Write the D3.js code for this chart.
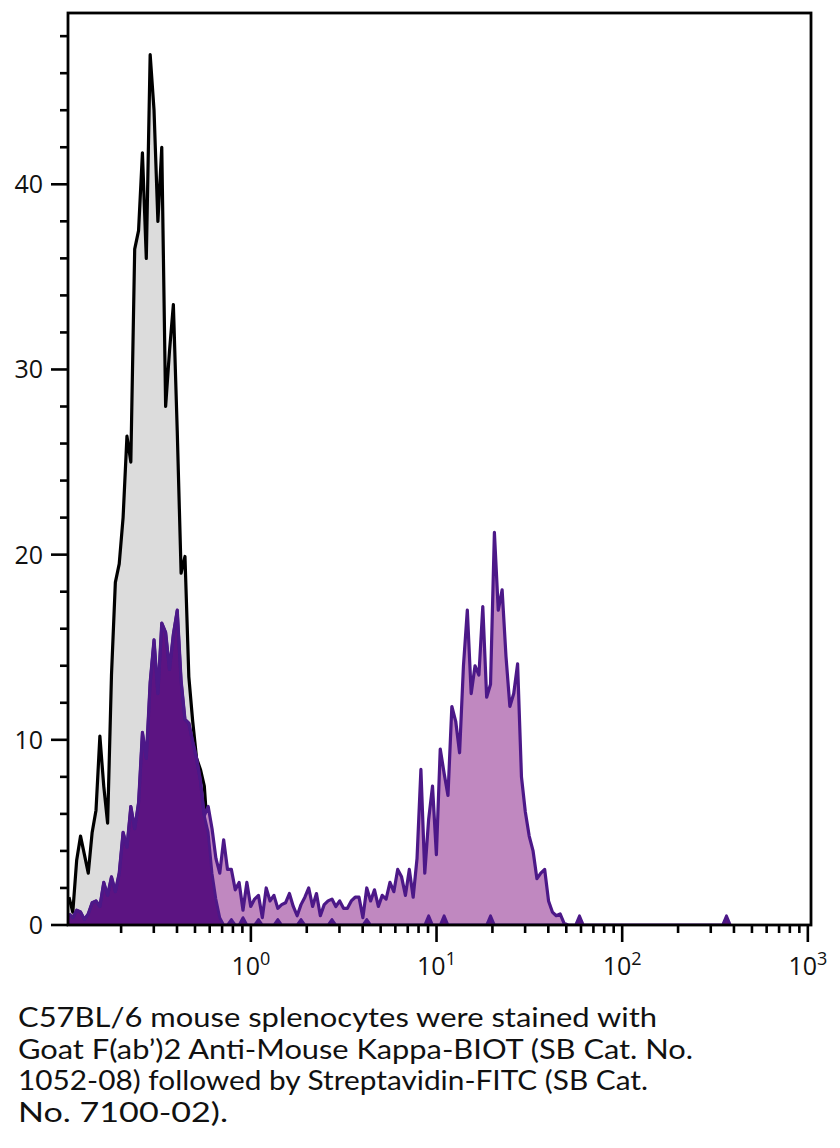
<!DOCTYPE html>
<html><head><meta charset="utf-8">
<script src="https://cdn.jsdelivr.net/npm/d3@7"></script>
<style>html,body{margin:0;padding:0;background:#fff;} svg{display:block;}</style>
</head><body>
<svg id="chart" width="840" height="1148"></svg>
<script>
// ---- data: histogram bins on a log grid (bin i at 10^(binStartLog + i/binsPerDecade)) ----
const binStartLog = -0.98;
const binsPerDecade = 48;

// unstained control (grey fill, black outline)
const controlCounts = [1.5,0.7,3.5,4.8,3.8,2.8,5.0,6.2,10.2,7.5,5.5,13.5,18.5,19.5,22.0,26.4,25.0,36.5,37.5,41.7,36.0,47.0,44.0,38.0,42.0,28.0,31.0,33.5,26.7,19.0,19.9,13.4,11.0,9.0,8.4,7.5,4.5,2.5,1.5,0.8,0];

// stained sample (light purple fill, purple outline)
const stainedCounts = [0.6,0.4,0.8,0.7,0.3,0.6,1.2,1.3,1.0,2.3,1.6,2.6,1.8,2.8,5.0,4.2,6.4,5.2,6.6,10.4,9.0,13.1,15.4,12.5,16.3,15.8,13.8,15.7,17.0,13.2,11.1,10.9,9.9,9.0,7.8,5.9,
6.4,5.2,3.6,2.8,4.6,3.0,3.0,1.9,2.3,0.8,2.3,1.0,1.4,1.6,0.4,2.0,1.3,1.6,0.9,1.1,1.2,1.7,1.0,0.5,1.1,1.5,2.0,1.0,1.7,0.5,1.1,1.3,1.4,1.0,1.3,0.9,0.9,1.3,1.5,1.5,0.4,2.0,1.3,1.9,1.0,1.6,1.4,2.3,1.8,3.0,2.6,1.6,3.0,1.5,3.6,8.4,2.8,5.7,7.5,3.8,9.5,8.2,7.0,11.8,11.0,9.3,14.0,17.0,12.5,14.0,13.5,17.2,12.3,13.0,21.2,17.0,18.1,14.5,11.8,12.5,14.1,8.0,6.1,4.8,4.0,2.5,2.8,3.0,1.3,0.7,0.5,0.6,0.1,0];

// low (negative) population (dark purple fill)
const lowCounts = [0.6,0.4,0.8,0.7,0.3,0.6,1.2,1.3,1.0,2.3,1.6,2.6,1.8,2.8,5.0,4.2,6.4,5.2,6.6,10.4,9.0,13.1,15.4,12.5,16.3,15.8,13.8,15.7,17.0,13.2,11.1,10.9,9.9,9.0,7.8,5.9,
5.0,2.8,1.4,0.4,0,0,0.3,0,0,0.4,0,0,0,0.3,0,0,0,0,0.3,0,0,0,0,0,0.3,0,0,0,0,0,0,0,0.3,0,0,0,0,0,0,0,0,0.3,0,0,0,0,0,0,0,0,0,0,0,0,0,0,0,0.5,0,0,0,0.5,0,0,0,0,0,0,0,0,0,0,0,0.5,0,0,0,0,0,0,0,0,0,0,0,0,0,0,0,0,0,0,0,0,0,0,0.5,0,
0,0,0,0,0,0,0,0,0,0,0,0,0,0,0,0,0,0,0,0,0,0,0,0,0,0,0,0,0,0,0,0,0,0,0,0,0.5,0];

const yMajorTicks = [0, 10, 20, 30, 40];
const yMinorTicks = [2,4,6,8,12,14,16,18,22,24,26,28,32,34,36,38,42,44,46,48];
const xMajorTicks = [1, 10, 100, 1000];
const xMajorExponents = ["0", "1", "2", "3"];
const xMinorTicks = [0.2,0.3,0.4,0.5,0.6,0.7,0.8,0.9,2,3,4,5,6,7,8,9,20,30,40,50,60,70,80,90,200,300,400,500,600,700,800,900];
const captionLines = [
  "C57BL/6 mouse splenocytes were stained with",
  "Goat F(ab\u2019)2 Anti-Mouse Kappa-BIOT (SB Cat. No.",
  "1052-08) followed by Streptavidin-FITC (SB Cat.",
  "No. 7100-02)."
];
const captionWidths = [639, 675, 630, 210];

// ---- drawing ----
const svg = d3.select("#chart");
const plot = {left: 68, right: 811, top: 13, bottom: 925};
const x = d3.scaleLog().domain([0.1035, 1040]).range([plot.left, plot.right]);
const y = d3.scaleLinear().domain([0, 49.25]).range([plot.bottom, plot.top]);
const binValue = i => Math.pow(10, binStartLog + i / binsPerDecade);

svg.append("defs").append("clipPath").attr("id", "clip")
  .append("rect").attr("x", plot.left).attr("y", plot.top)
  .attr("width", plot.right - plot.left).attr("height", plot.bottom - plot.top);

const g = svg.append("g").attr("clip-path", "url(#clip)");
const area = d3.area().x((d, i) => x(binValue(i))).y0(y(0)).y1(d => y(d));
const line = d3.line().x((d, i) => x(binValue(i))).y(d => y(d));

g.append("path").datum(controlCounts).attr("d", area).attr("fill", "#dcdcdc");
g.append("path").datum(controlCounts).attr("d", line).attr("fill", "none")
  .attr("stroke", "#000").attr("stroke-width", 3.2).attr("stroke-linejoin", "round");
g.append("path").datum(stainedCounts).attr("d", area).attr("fill", "#c088c0");
g.append("path").datum(lowCounts).attr("d", area).attr("fill", "#5c1482");
g.append("path").datum(lowCounts).attr("d", line).attr("fill", "none")
  .attr("stroke", "#4c1888").attr("stroke-width", 2.8).attr("stroke-linejoin", "round");
g.append("path").datum(stainedCounts).attr("d", line).attr("fill", "none")
  .attr("stroke", "#4c1888").attr("stroke-width", 3.2).attr("stroke-linejoin", "round");

// frame
svg.append("rect").attr("x", plot.left).attr("y", plot.top)
  .attr("width", plot.right - plot.left).attr("height", plot.bottom - plot.top)
  .attr("fill", "none").attr("stroke", "#000").attr("stroke-width", 2.8);

// y axis ticks
const yAxis = svg.append("g");
yAxis.selectAll("line.maj").data(yMajorTicks).join("line")
  .attr("x1", plot.left - 17).attr("x2", plot.left).attr("y1", d => y(d)).attr("y2", d => y(d))
  .attr("stroke", "#000").attr("stroke-width", 2.6);
yAxis.selectAll("line.min").data(yMinorTicks).join("line").attr("class", "min")
  .attr("x1", plot.left - 8).attr("x2", plot.left).attr("y1", d => y(d)).attr("y2", d => y(d))
  .attr("stroke", "#000").attr("stroke-width", 2.6);
yAxis.selectAll("text").data(yMajorTicks).join("text")
  .attr("x", 43).attr("y", d => y(d)).attr("dy", "0.36em")
  .attr("text-anchor", "end").attr("font-family", "Open Sans, sans-serif")
  .attr("font-size", 25).attr("fill", "#111").text(d => d);

// x axis ticks
const xAxis = svg.append("g");
xAxis.selectAll("line.maj").data(xMajorTicks).join("line").attr("class", "maj")
  .attr("x1", d => x(d)).attr("x2", d => x(d)).attr("y1", plot.bottom).attr("y2", plot.bottom + 17)
  .attr("stroke", "#000").attr("stroke-width", 2.6);
xAxis.selectAll("line.min").data(xMinorTicks).join("line").attr("class", "min")
  .attr("x1", d => x(d)).attr("x2", d => x(d)).attr("y1", plot.bottom).attr("y2", plot.bottom + 8)
  .attr("stroke", "#000").attr("stroke-width", 2.6);
const xl = xAxis.selectAll("text").data(xMajorTicks).join("text")
  .attr("x", d => x(d)).attr("y", 975).attr("text-anchor", "middle")
  .attr("font-family", "Open Sans, sans-serif").attr("fill", "#111");
xl.append("tspan").attr("font-size", 25).text("10");
xl.append("tspan").attr("font-size", 18).attr("dy", -10).text((d, i) => xMajorExponents[i]);

// caption
svg.append("g").selectAll("text").data(captionLines).join("text")
  .attr("x", 18).attr("y", (d, i) => 1027 + i * 31.7)
  .attr("font-family", "Lato, sans-serif").attr("font-size", 26).attr("fill", "#111")
  .attr("textLength", (d, i) => captionWidths[i]).attr("lengthAdjust", "spacingAndGlyphs")
  .text(d => d);
</script>
</body></html>
